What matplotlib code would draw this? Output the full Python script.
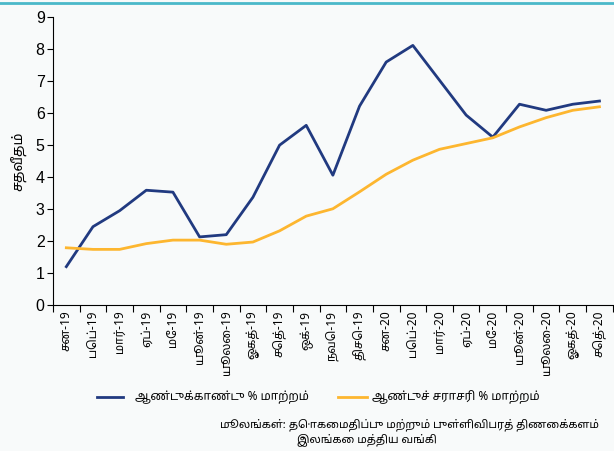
import matplotlib
matplotlib.use("Agg")
import matplotlib.pyplot as plt

# months, Jan-19 .. Sep-20
months = ["சன-19", "பெப்-19", "மார்-19", "ஏப்-19", "மே-19", "யூன்-19", "யூலை-19",
          "ஓகத்-19", "செத்-19", "ஒக்-19", "நவெ-19", "திசெ-19", "சன-20", "பெப்-20",
          "மார்-20", "ஏப்-20", "மே-20", "யூன்-20", "யூலை-20", "ஓகத்-20", "செத்-20"]
yoy = [1.2, 2.45, 2.95, 3.59, 3.53, 2.13, 2.2, 3.37, 5.0, 5.62, 4.06, 6.22,
       7.6, 8.12, 7.03, 5.94, 5.25, 6.28, 6.09, 6.28, 6.38]
avg = [1.79, 1.74, 1.74, 1.92, 2.03, 2.03, 1.9, 1.97, 2.32, 2.78, 3.01, 3.54,
       4.09, 4.53, 4.87, 5.05, 5.23, 5.57, 5.86, 6.09, 6.2]
yoy_label = "ஆண்டுக்காண்டு % மாற்றம்"
avg_label = "ஆண்டுச் சராசரி % மாற்றம்"

plt.rcParams['font.family'] = ["Noto Sans Tamil", "Liberation Sans", "DejaVu Sans"]

bg = "#f8fafa"
blue = "#213a80"
gold = "#fdb62f"
fig = plt.figure(figsize=(6.14, 4.51), dpi=100, facecolor=bg)
ax = fig.add_axes([0.0863, 0.3237, 0.9117, 0.638], facecolor=bg)

x = list(range(len(months)))
ax.plot(x, yoy, color=blue, lw=2)
ax.plot(x, avg, color=gold, lw=2)

ax.set_xlim(-0.5, 20.5)
ax.set_ylim(0, 9)
ax.set_yticks(range(10))
ax.set_yticklabels([str(i) for i in range(10)], family="Liberation Sans", fontsize=11.5)
ax.set_xticks([i - 0.5 for i in range(22)])
ax.set_xticklabels([])
ax.set_xticks(x, minor=True)
ax.set_xticklabels(months, minor=True, rotation=90, fontsize=8.5)
ax.tick_params(axis='x', which='minor', length=0, pad=4)
ax.tick_params(axis='x', which='major', length=5, direction='out')
ax.tick_params(axis='y', length=4, pad=2)
for s in ["top", "right"]:
    ax.spines[s].set_visible(False)
ax.set_ylabel("சதவீதம்", fontsize=10, labelpad=6)

# teal rule along the top
fig.add_artist(plt.Line2D([0, 1], [0.994, 0.994], color="#4bb8c9", lw=2))

# legend drawn by hand below the axis
ly = 1 - 397 / 451
fig.add_artist(plt.Line2D([97 / 614, 123 / 614], [ly, ly], color=blue, lw=2))
fig.text(135 / 614, ly, yoy_label, fontsize=8.5, va='center')
fig.add_artist(plt.Line2D([338 / 614, 367 / 614], [ly, ly], color=gold, lw=2))
fig.text(372 / 614, ly, avg_label, fontsize=8.5, va='center')

# source note, italic lead-in then the rest right after it
fy = 1 - 425 / 451
t = fig.text(220 / 614, fy, "மூலங்கள்:", fontsize=8, style='italic', va='center')
ax.annotate(" தொகைமதிப்பு மற்றும் புள்ளிவிபரத் திணைக்களம்", xy=(1, 0.5), xycoords=t,
            fontsize=8, va='center', ha='left', annotation_clip=False)
fig.text(367 / 614, 1 - 440 / 451, "இலங்கை மத்திய வங்கி", fontsize=8, va='center', ha='center')

fig.savefig("out.png", dpi=100, facecolor=bg)
